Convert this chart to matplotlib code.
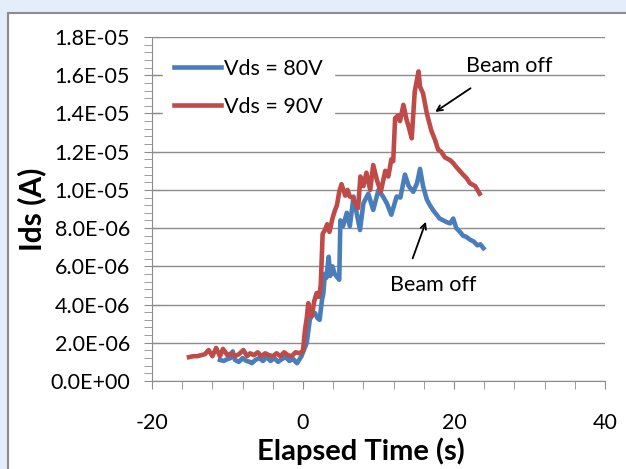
import matplotlib.pyplot as plt
import numpy as np

plt.rcParams['font.family'] = ['Lato', 'DejaVu Sans']
plt.rcParams['axes.unicode_minus'] = False

# elapsed time (s) and drain current (x1e-6 A)
t_80 = [-11.0, -10.5, -10.0, -9.6, -9.3, -9.0, -8.5, -8.0, -7.5, -7.0, -6.8, -6.3, -5.8, -5.3,
        -4.8, -4.3, -3.8, -3.3, -2.8, -2.3, -1.8, -1.3, -0.8, -0.2, 0.2, 0.5, 0.9, 1.2, 1.6,
        1.9, 2.2, 2.5, 2.7, 2.9, 3.1, 3.4, 3.6, 3.9, 4.2, 4.6, 4.8, 4.95, 5.3, 5.8, 6.2, 6.7,
        7.1, 7.55, 8.0, 8.65, 9.3, 10.0, 10.6, 11.1, 11.7, 12.4, 12.9, 13.5, 14.0, 14.6, 15.1,
        15.5, 15.9, 16.4, 16.8, 17.3, 18.1, 18.6, 19.1, 19.5, 19.9, 20.3, 20.8, 21.2, 21.6,
        22.1, 22.6, 23.1, 23.5, 23.9]
i_80 = [1.1, 1.05, 1.15, 1.2, 1.55, 1.1, 1.0, 1.2, 1.05, 1.0, 0.93, 1.1, 1.2, 1.05,
        1.25, 1.05, 1.2, 1.0, 1.15, 1.25, 1.05, 1.15, 0.93, 1.3, 1.7, 2.0, 3.2, 3.5, 3.55,
        3.3, 3.2, 4.2, 4.6, 5.6, 5.4, 6.5, 5.5, 6.0, 5.6, 5.4, 5.3, 8.4, 8.1, 8.8, 8.1, 9.65,
        8.8, 7.9, 9.3, 9.8, 8.95, 10.0, 9.65, 9.3, 8.7, 9.65, 9.6, 10.8, 10.2, 9.9, 10.35,
        11.1, 10.2, 9.5, 9.2, 8.9, 8.5, 8.4, 8.3, 8.25, 8.5, 8.0, 7.8, 7.6, 7.55,
        7.4, 7.3, 7.1, 7.15, 6.95]

t_90 = [-15.1, -14.5, -14.0, -13.5, -13.0, -12.5, -12.0, -11.5, -11.0, -10.6, -10.0, -9.5,
        -9.0, -8.5, -7.9, -7.4, -7.0, -6.5, -6.0, -5.5, -5.0, -4.5, -4.0, -3.5, -3.0, -2.5,
        -2.0, -1.5, -1.0, -0.4, 0.0, 0.26, 0.5, 0.7, 0.9, 1.15, 1.5, 1.8, 2.1, 2.35, 2.6, 2.9,
        3.2, 3.5, 3.9, 4.2, 4.5, 4.8, 5.1, 5.6, 5.9, 6.2, 6.6, 6.9, 7.3, 7.6, 8.0, 8.4, 8.9,
        9.3, 9.8, 10.3, 10.9, 11.3, 11.7, 11.95, 12.2, 12.6, 12.85, 13.3, 13.7, 14.0, 14.4,
        14.8, 15.3, 15.5, 15.9, 16.4, 17.0, 17.5, 17.9, 18.3, 18.8, 19.5, 19.9, 20.3, 21.2,
        21.7, 22.1, 22.8, 23.4]
i_90 = [1.25, 1.3, 1.3, 1.35, 1.4, 1.62, 1.3, 1.73, 1.3, 1.68, 1.35, 1.45,
        1.3, 1.4, 1.62, 1.3, 1.45, 1.35, 1.5, 1.3, 1.45, 1.35, 1.3, 1.45, 1.3, 1.5,
        1.35, 1.3, 1.5, 1.45, 1.6, 2.67, 3.3, 4.07, 3.6, 3.37, 4.2, 4.6, 4.4, 5.0, 7.7, 7.9,
        8.2, 7.8, 8.5, 8.9, 9.2, 9.9, 10.3, 9.7, 10.0, 9.65, 9.6, 9.3, 9.05, 10.7, 10.2, 10.9, 10.0,
        11.3, 10.5, 9.9, 11.0, 10.7, 11.6, 11.5, 13.75, 13.9, 13.6, 14.45, 13.7, 13.3, 12.7,
        15.15, 16.2, 15.4, 15.05, 14.0, 13.1, 12.6, 12.1, 12.0, 11.7, 11.55, 11.4, 11.2, 10.8,
        10.6, 10.35, 10.2, 9.8]

labels = ['Vds = 80V', 'Vds = 90V']
colors = ['#4a7ebb', '#be4b48']

fig = plt.figure(figsize=(6.26, 4.69), dpi=100)
fig.patch.set_facecolor('#e3eefa')
# white chart area with grey border, like the slide
frame = plt.Rectangle((8 / 626, -0.1), 1.0, 1 - 13 / 469 + 0.1, transform=fig.transFigure,
                      facecolor='white', edgecolor='#8c8c8c', linewidth=1.5, zorder=-5)
fig.patches.append(frame)

ax = fig.add_axes([152 / 626, 1 - 381 / 469, 453 / 626, 344 / 469])
ax.set_zorder(1)
ax.set_facecolor('none')

ax.plot(t_80, np.array(i_80) * 1e-6, color=colors[0], lw=3.3, label=labels[0], zorder=3)
ax.plot(t_90, np.array(i_90) * 1e-6, color=colors[1], lw=3.3, label=labels[1], zorder=3)

ax.set_xlim(-20, 40)
ax.set_ylim(0, 1.8e-5)
ax.set_xticks([-20, 0, 20, 40])
ax.set_xticks(np.arange(-20, 41, 4), minor=True)
yt = np.arange(0, 1.81e-5, 2e-6)
ax.set_yticks(yt)
ax.set_yticks(np.arange(0, 1.81e-5, 4e-7), minor=True)
ax.set_yticklabels([f'{v:.1E}' for v in yt])

ax.grid(axis='y', color='#8c8c8c', lw=1)
ax.set_axisbelow(True)
for s in ['top', 'right']:
    ax.spines[s].set_visible(False)
for s in ['left', 'bottom']:
    ax.spines[s].set_color('#8c8c8c')
ax.tick_params(axis='y', which='major', direction='inout', length=12, color='#8c8c8c',
               labelsize=15.5, pad=10)
ax.tick_params(axis='y', which='minor', direction='out', length=6, color='#8c8c8c')
ax.tick_params(axis='x', which='both', direction='out', length=6, color='#8c8c8c',
               labelsize=15.5, pad=17)

ax.set_xlabel('Elapsed Time (s)', fontsize=21, fontweight='bold')
ax.xaxis.set_label_coords(0.46, -0.165)
ax.set_ylabel('Ids (A)', fontsize=21.5, fontweight='bold', labelpad=3)

leg = ax.legend(loc='upper left', bbox_to_anchor=(0.0, 1.0), frameon=True, fancybox=False,
                facecolor='white', edgecolor='white', framealpha=1, fontsize=15.5,
                handlelength=2.2, handletextpad=0.15, labelspacing=0.85, borderpad=0.5)
leg.set_zorder(2)

arrow = dict(arrowstyle='->', color='black', lw=1.3)
ax.annotate('', xy=(17.2, 14.0e-6), xytext=(22.5, 15.4e-6), arrowprops=arrow)
ax.text(27.3, 16.5e-6, 'Beam off', fontsize=15.5, ha='center', va='center')
ax.annotate('', xy=(16.4, 8.47e-6), xytext=(14.4, 6.28e-6), arrowprops=arrow)
ax.text(17.2, 5.0e-6, 'Beam off', fontsize=15.5, ha='center', va='center')

fig.savefig('out.png', dpi=100, facecolor=fig.get_facecolor())
